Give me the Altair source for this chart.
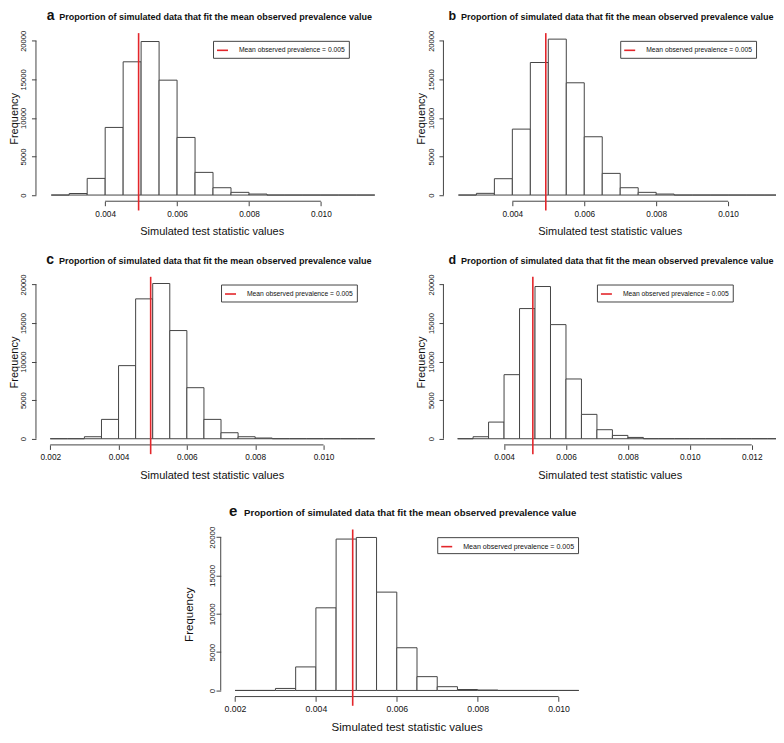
import altair as alt
import pandas as pd

FONT = "Liberation Sans"
RED = "#e3262b"
INK = "#444444"
TXT = "#111111"

TITLE = "Proportion of simulated data that fit the mean observed prevalence value"
LEGEND_LABEL = "Mean observed prevalence = 0.005"
X_TITLE = "Simulated test statistic values"
Y_TITLE = "Frequency"

BIN_WIDTH = 0.0005

# first bin start of each histogram
first_bin = {"a": 0.0025, "b": 0.0025, "c": 0.0020, "d": 0.0025, "e": 0.0020}

# bin counts (bins of width 0.0005)
counts = {
    "a": [0, 200, 2160, 8770, 17280, 19910, 14900, 7470, 2940, 950, 350, 130,
          0, 0, 0, 0, 0, 0],
    "b": [0, 220, 2120, 8550, 17190, 20220, 14560, 7560, 2810, 950, 350, 130,
          0, 0, 0, 0, 0, 0],
    "c": [0, 0, 260, 2510, 9480, 18140, 20130, 14030, 6620, 2510, 780, 260, 90,
          0, 0, 0, 0, 0, 0],
    "d": [0, 260, 2160, 8310, 16880, 19740, 14800, 7750, 3160, 1170, 430, 170,
          0, 0, 0, 0, 0, 0, 0, 0, 0, 0],
    "e": [0, 0, 260, 3070, 10780, 19750, 19960, 12830, 5570, 1800, 490, 120, 50,
          0, 0, 0, 0],
}

# mean observed prevalence (red line)
means = {"a": 0.00493, "b": 0.00493, "c": 0.00494, "d": 0.00493, "e": 0.00491}
red_line_span = [-2000, 21000]
legend_x_value = 0.007
legend_y_value = 20000

x_ticks = {
    "a": [0.004, 0.006, 0.008, 0.010],
    "b": [0.004, 0.006, 0.008, 0.010],
    "c": [0.002, 0.004, 0.006, 0.008, 0.010],
    "d": [0.004, 0.006, 0.008, 0.010, 0.012],
    "e": [0.002, 0.004, 0.006, 0.008, 0.010],
}
y_ticks = [0, 5000, 10000, 15000, 20000]

# layout / style per panel (pixels)
geom = {
    "a": dict(W=352, H=166, xdom=[0.002075, 0.011853], ydom=[-800, 20700],
              L=27.6, R=27.8, T=26.5, B=50.5, s=1.0, tcx=179.9, lcx=18.5,
              lfs=14, tfs=9.05, tby=15.5, ylp=3.9, ytp=0.2),
    "b": dict(W=333, H=166, xdom=[0.002083, 0.011333], ydom=[-800, 20700],
              L=27.6, R=0, T=26.5, B=50.5, s=1.0, tcx=174.0, lcx=12.6,
              lfs=12.5, tfs=9.05, tby=15.5, ylp=3.9, ytp=0.2),
    "c": dict(W=352, H=166, xdom=[0.001582, 0.011874], ydom=[-800, 20700],
              L=27.6, R=27.8, T=26.5, B=58.5, s=1.0, tcx=179.6, lcx=18.2,
              lfs=14, tfs=9.05, tby=15.5, ylp=3.9, ytp=0.2),
    "d": dict(W=333, H=166, xdom=[0.002042, 0.012784], ydom=[-800, 20700],
              L=27.6, R=0, T=26.5, B=58.5, s=1.0, tcx=174.0, lcx=12.6,
              lfs=12.5, tfs=9.05, tby=15.5, ylp=3.9, ytp=0.2),
    "e": dict(W=372.3, H=165, xdom=[0.001647, 0.01084], ydom=[-800, 20700],
              L=37.5, R=10, T=28, B=36, s=1.05, tcx=189.7, lcx=16.7,
              lfs=15, tfs=9.6, tby=16, ylp=0, ytp=13.6),
}
E_INDENT = 146.9


def panel(k):
    g = geom[k]
    W, H, s = g["W"], g["H"], g["s"]
    xs = alt.Scale(domain=g["xdom"], nice=False, zero=False)
    ys = alt.Scale(domain=g["ydom"], nice=False, zero=False)
    edges = [first_bin[k] + i * BIN_WIDTH for i in range(len(counts[k]))]
    df = pd.DataFrame({"x0": edges,
                       "x1": [e + BIN_WIDTH for e in edges],
                       "n": counts[k]})
    one = pd.DataFrame({"k": [0]})

    xaxis = alt.Axis(values=x_ticks[k], format=".3f", domain=False, grid=False,
                     zindex=2,
                     tickSize=4.5 * s, tickColor=INK, tickWidth=1,
                     labelFont=FONT, labelFontSize=8.3 * s, labelColor=TXT,
                     labelPadding=3.5, labelFlush=False, labelOverlap=False,
                     title=X_TITLE, titleFont=FONT, titleFontSize=11 * s,
                     titleFontWeight="normal", titleColor=TXT, titlePadding=8.5)
    yaxis = alt.Axis(values=y_ticks, format="d", domain=False, grid=False,
                     zindex=2,
                     tickSize=4.5 * s, tickColor=INK, tickWidth=1,
                     labelAngle=270, labelAlign="center", labelBaseline="bottom",
                     labelPadding=g["ylp"], labelFont=FONT,
                     labelFontSize=7.6 * s,
                     labelColor=TXT, labelFlush=False, labelOverlap=False,
                     title=Y_TITLE, titleFont=FONT, titleFontSize=11 * s,
                     titleFontWeight="normal", titleColor=TXT,
                     titlePadding=g["ytp"])

    spacer = alt.Chart(one).mark_rect(fill="white", strokeWidth=0).encode(
        x=alt.value(-g["L"]), x2=alt.value(W + g["R"]),
        y=alt.value(-g["T"]), y2=alt.value(H + g["B"]))

    bars = alt.Chart(df).mark_rect(fill="white", stroke=INK, strokeWidth=1,
                                   clip=True).encode(
        x=alt.X("x0:Q", scale=xs, axis=xaxis),
        x2="x1:Q",
        y=alt.Y("n:Q", scale=ys, axis=yaxis),
        y2=alt.datum(0),
    )

    xline = alt.Chart(one).mark_rule(color=INK, strokeWidth=1).encode(
        x=alt.XDatum(x_ticks[k][0], scale=xs),
        x2=alt.datum(x_ticks[k][-1]),
        y=alt.value(H))
    yline = alt.Chart(one).mark_rule(color=INK, strokeWidth=1).encode(
        y=alt.YDatum(y_ticks[0], scale=ys),
        y2=alt.datum(y_ticks[-1]),
        x=alt.value(0))

    x0, x1 = g["xdom"]
    y0, y1 = g["ydom"]
    lx = (legend_x_value - x0) / (x1 - x0) * W
    ly = (y1 - legend_y_value) / (y1 - y0) * H

    mdf = pd.DataFrame({"m": [means[k]], "lab": [LEGEND_LABEL],
                        "lo": [red_line_span[0]], "hi": [red_line_span[1]]})
    red = alt.Chart(mdf).mark_rule(strokeWidth=1.6).encode(
        x=alt.X("m:Q", scale=xs),
        y=alt.Y("hi:Q", scale=ys), y2="lo:Q",
        color=alt.Color("lab:N",
                        scale=alt.Scale(domain=[LEGEND_LABEL], range=[RED]),
                        legend=alt.Legend(orient="none", legendX=lx, legendY=ly,
                                          title=None, strokeColor=INK,
                                          fillColor="white", padding=3,
                                          symbolType="stroke", symbolSize=121,
                                          symbolStrokeWidth=1.6,
                                          labelFont=FONT,
                                          labelFontSize=6.75 * s,
                                          labelColor=TXT, labelOffset=10,
                                          labelLimit=400)))

    title = alt.Chart(one).mark_text(text=TITLE, font=FONT, fontSize=g["tfs"],
                                     fontWeight="bold", align="center",
                                     baseline="alphabetic", color=TXT).encode(
        x=alt.value(g["tcx"]), y=alt.value(-g["tby"]))
    letter = alt.Chart(one).mark_text(text=k, font=FONT, fontSize=g["lfs"],
                                      fontWeight="bold", align="right",
                                      baseline="alphabetic", color=TXT).encode(
        x=alt.value(g["lcx"]), y=alt.value(-g["tby"]))

    return alt.layer(spacer, bars, xline, yline, red, title, letter).properties(
        width=W, height=H)


def indep(c):
    return c.resolve_scale(x="independent", y="independent",
                           color="independent").resolve_legend(color="independent")


blank = alt.Chart(pd.DataFrame({"k": [0]})).mark_rect(fill="white", strokeWidth=0).encode(
    x=alt.value(0), x2=alt.value(1), y=alt.value(0), y2=alt.value(1)
).properties(width=E_INDENT, height=1)

row1 = indep(alt.hconcat(panel("a"), panel("b"), spacing=0))
row2 = indep(alt.hconcat(panel("c"), panel("d"), spacing=0))
row3 = indep(alt.hconcat(blank, panel("e"), spacing=0))
chart = indep(alt.vconcat(row1, row2, row3, spacing=0)).properties(
    padding=0).configure_view(stroke=None)

chart.save("out.html", embed_options={"renderer": "svg", "actions": False})
